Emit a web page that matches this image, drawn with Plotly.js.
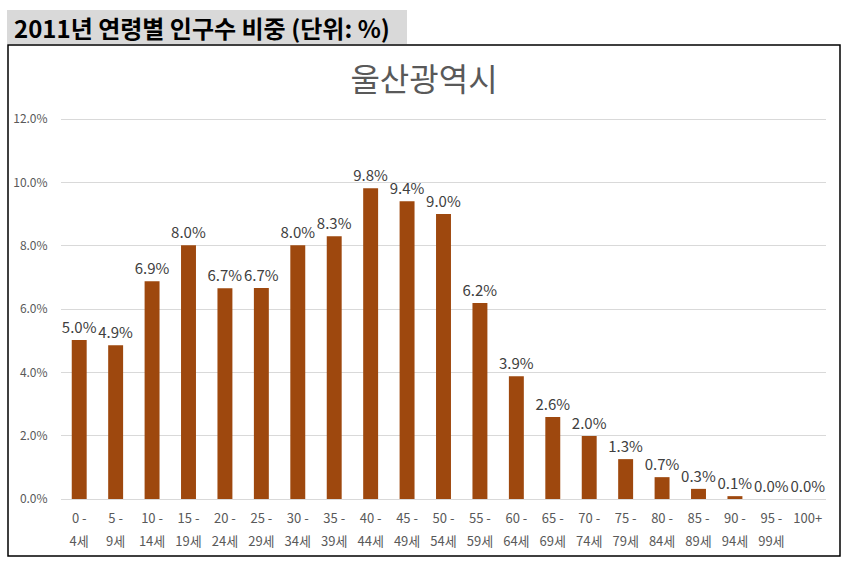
<!DOCTYPE html>
<html>
<head>
<meta charset="utf-8">
<script src="https://cdn.plot.ly/plotly-3.0.1.min.js"></script>
<style>
  body { margin: 0; background: #fff; }
  #chart { width: 848px; height: 565px; }
</style>
</head>
<body>
<div id="chart"></div>
<script>
// age groups (first line / second line of tick label)
const ageTop = ["0 -", "5 -", "10 -", "15 -", "20 -", "25 -", "30 -", "35 -", "40 -", "45 -",
                "50 -", "55 -", "60 -", "65 -", "70 -", "75 -", "80 -", "85 -", "90 -", "95 -", "100+"];
const ageBottom = ["4세", "9세", "14세", "19세", "24세", "29세", "34세", "39세", "44세", "49세",
                   "54세", "59세", "64세", "69세", "74세", "79세", "84세", "89세", "94세", "99세", ""];
// share of population (%)
const share = [5.02, 4.86, 6.88, 8.02, 6.66, 6.67, 8.02, 8.30, 9.82, 9.41,
               9.00, 6.19, 3.88, 2.59, 1.99, 1.26, 0.69, 0.32, 0.09, 0.00, 0.00];

const idx = ageTop.map((_, i) => i);
const font = "Noto Sans CJK KR, Noto Sans, sans-serif";

// pixel -> paper helpers for the frame and header
const L = 61, R = 826, T = 116, B = 499;
const px = x => (x - L) / (R - L);
const py = y => (B - y) / (B - T);

const data = [{
    type: "bar",
    x: idx,
    y: share,
    marker: {color: "#9E480E"},
    texttemplate: "%{y:.1f}%",
    textposition: "outside",
    constraintext: "none",
    cliponaxis: false,
    textfont: {family: font, size: 15, color: "#404040"},
    hoverinfo: "skip"
}];

const layout = {
    width: 848,
    height: 565,
    margin: {l: L, r: 848 - R, t: T, b: 565 - B},
    paper_bgcolor: "#fff",
    plot_bgcolor: "#fff",
    showlegend: false,
    bargap: 0.59,
    title: {
        text: "울산광역시",
        x: 0.5, xref: "container",
        y: 1 - 80 / 565, yref: "container", yanchor: "middle",
        font: {family: font, size: 32, color: "#595959"}
    },
    xaxis: {
        range: [-0.5, 20.5],
        tickvals: idx,
        ticktext: ageTop,
        tickfont: {family: font, size: 13, color: "#595959"},
        ticks: "outside", ticklen: 7, tickcolor: "rgba(0,0,0,0)",
        showgrid: false, zeroline: false,
        showline: true, linecolor: "#d9d9d9", linewidth: 1,
        fixedrange: true
    },
    xaxis2: {
        overlaying: "x", anchor: "y", side: "bottom",
        range: [-0.5, 20.5],
        tickvals: idx,
        ticktext: ageBottom,
        tickfont: {family: font, size: 13, color: "#595959"},
        ticks: "outside", ticklen: 30, tickcolor: "rgba(0,0,0,0)",
        showgrid: false, zeroline: false, showline: false,
        fixedrange: true
    },
    yaxis: {
        range: [0, 12.1],
        dtick: 2,
        tickformat: ".1f",
        ticksuffix: "%",
        tickfont: {family: font, size: 12, color: "#595959"},
        gridcolor: "#d9d9d9",
        zeroline: false,
        ticks: "outside", ticklen: 10, tickcolor: "rgba(0,0,0,0)",
        fixedrange: true
    },
    shapes: [
        {type: "rect", xref: "paper", yref: "paper",
         x0: px(8), x1: px(840), y0: py(556), y1: py(45),
         line: {color: "#000", width: 1.5}, fillcolor: "rgba(0,0,0,0)", layer: "below"},
        {type: "rect", xref: "paper", yref: "paper",
         x0: px(7), x1: px(407), y0: py(44), y1: py(10),
         line: {width: 0}, fillcolor: "#d9d9d9", layer: "below"}
    ],
    annotations: [{
        text: "<b>2011년 연령별 인구수 비중 (단위: %)</b>",
        xref: "paper", yref: "paper",
        x: px(12), y: py(27),
        xanchor: "left", yanchor: "middle",
        showarrow: false,
        font: {family: font, size: 24, color: "#000"}
    }]
};

// empty trace so xaxis2 gets drawn
data.push({type: "scatter", x: [0], y: [0], xaxis: "x2", mode: "markers",
           marker: {opacity: 0}, hoverinfo: "skip"});

Plotly.newPlot("chart", data, layout, {displayModeBar: false, staticPlot: true});
</script>
</body>
</html>
